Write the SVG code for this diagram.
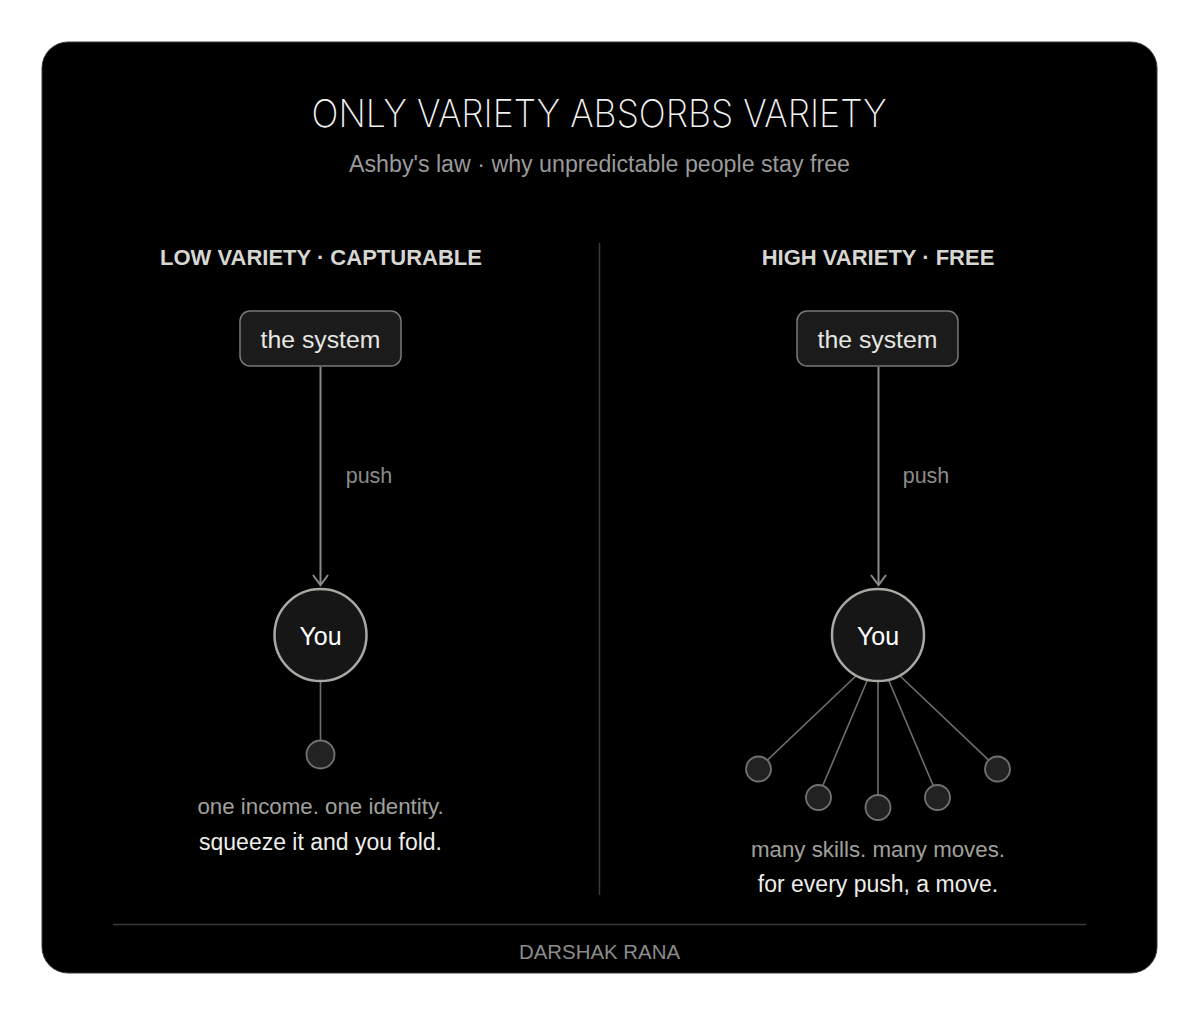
<svg xmlns="http://www.w3.org/2000/svg" width="1199" height="1016" viewBox="0 0 1199 1016">
<defs>
<style>
text{font-family:"Liberation Sans",Arial,sans-serif;text-anchor:middle}
.title{font-family:Inter,"Liberation Sans",sans-serif;font-weight:200;font-size:38px;fill:#f2f2f2}
.sub{font-size:23px;fill:#9a9a9a}
.hdr{font-size:22px;font-weight:bold;fill:#d6d6d2}
.box{fill:#1b1b1b;stroke:#7a7a78;stroke-width:1.5}
.boxt{font-size:24.8px;fill:#e6e6e2}
.you{fill:#161616;stroke:#a9a9a3;stroke-width:2.5}
.yout{font-size:25px;fill:#ffffff}
.conn{stroke:#8a8a88;stroke-width:2;fill:none}
.branch{stroke:#6e6e6c;stroke-width:1.6;fill:none}
.leaf{fill:#222222;stroke:#727270;stroke-width:1.8}
.push{font-size:21.5px;fill:#8c8c8a}
.note{font-size:22.3px;fill:#a0a09c}
.punch{font-size:23px;fill:#eeeeea}
.foot{font-size:20px;fill:#8c8c8a}
</style>
<marker id="arr" markerWidth="14" markerHeight="18" refX="11" refY="9" orient="auto" markerUnits="userSpaceOnUse" viewBox="0 0 14 18">
<path d="M1,1.5 L11,9 L1,16.5" fill="none" stroke="#8a8a88" stroke-width="2"/>
</marker>
</defs>
<rect x="0" y="0" width="1199" height="1016" fill="#ffffff"/>
<rect x="42" y="42" width="1115" height="931" rx="26" fill="#000000" stroke="#3a3a3a" stroke-width="1"/>
<text class="title" x="599" y="127" textLength="575" lengthAdjust="spacingAndGlyphs">ONLY VARIETY ABSORBS VARIETY</text>
<text class="sub" x="599.5" y="172" textLength="501" lengthAdjust="spacingAndGlyphs">Ashby's law · why unpredictable people stay free</text>
<line x1="599.5" y1="243" x2="599.5" y2="895" stroke="#3a3a3a" stroke-width="1.5"/>
<text class="hdr" x="321" y="265">LOW VARIETY · CAPTURABLE</text>
<text class="hdr" x="878" y="265">HIGH VARIETY · FREE</text>
<g id="connectors">
<line class="conn" x1="320.5" y1="367" x2="320.5" y2="585" marker-end="url(#arr)"/>
<line class="conn" x1="878.5" y1="367" x2="878.5" y2="585" marker-end="url(#arr)"/>
<line class="branch" x1="320.5" y1="681" x2="320.5" y2="740"/>
<line class="branch" x1="878" y1="655" x2="758" y2="769"/>
<line class="branch" x1="878" y1="655" x2="818" y2="797"/>
<line class="branch" x1="878" y1="655" x2="878" y2="807"/>
<line class="branch" x1="878" y1="655" x2="938" y2="797"/>
<line class="branch" x1="878" y1="655" x2="998" y2="769"/>
</g>
<text class="push" x="369" y="483">push</text>
<text class="push" x="926" y="483">push</text>
<g id="system-left"><rect class="box" x="240" y="311" width="161" height="55" rx="10"/><text class="boxt" x="320.5" y="348">the system</text></g>
<g id="system-right"><rect class="box" x="797" y="311" width="161" height="55" rx="10"/><text class="boxt" x="877.5" y="348">the system</text></g>
<g id="you-left"><circle class="you" cx="320.5" cy="635" r="46"/><text class="yout" x="320.5" y="645">You</text></g>
<g id="you-right"><circle class="you" cx="878" cy="635" r="46"/><text class="yout" x="878" y="645">You</text></g>
<g id="leaf-left"><circle class="leaf" cx="320.5" cy="754.5" r="14"/></g>
<g id="leaf-r1"><circle class="leaf" cx="758.5" cy="769" r="12.5"/></g>
<g id="leaf-r2"><circle class="leaf" cx="818.5" cy="797.5" r="12.5"/></g>
<g id="leaf-r3"><circle class="leaf" cx="878" cy="807.5" r="12.5"/></g>
<g id="leaf-r4"><circle class="leaf" cx="937.5" cy="797.5" r="12.5"/></g>
<g id="leaf-r5"><circle class="leaf" cx="997.5" cy="769" r="12.5"/></g>
<text class="note" x="320.5" y="814">one income. one identity.</text>
<text class="punch" x="320.5" y="850">squeeze it and you fold.</text>
<text class="note" x="878" y="857">many skills. many moves.</text>
<text class="punch" x="878" y="892">for every push, a move.</text>
<line x1="113" y1="924.5" x2="1086" y2="924.5" stroke="#3a3a3a" stroke-width="1.5"/>
<text class="foot" x="599.5" y="959" textLength="161" lengthAdjust="spacingAndGlyphs">DARSHAK RANA</text>
</svg>
